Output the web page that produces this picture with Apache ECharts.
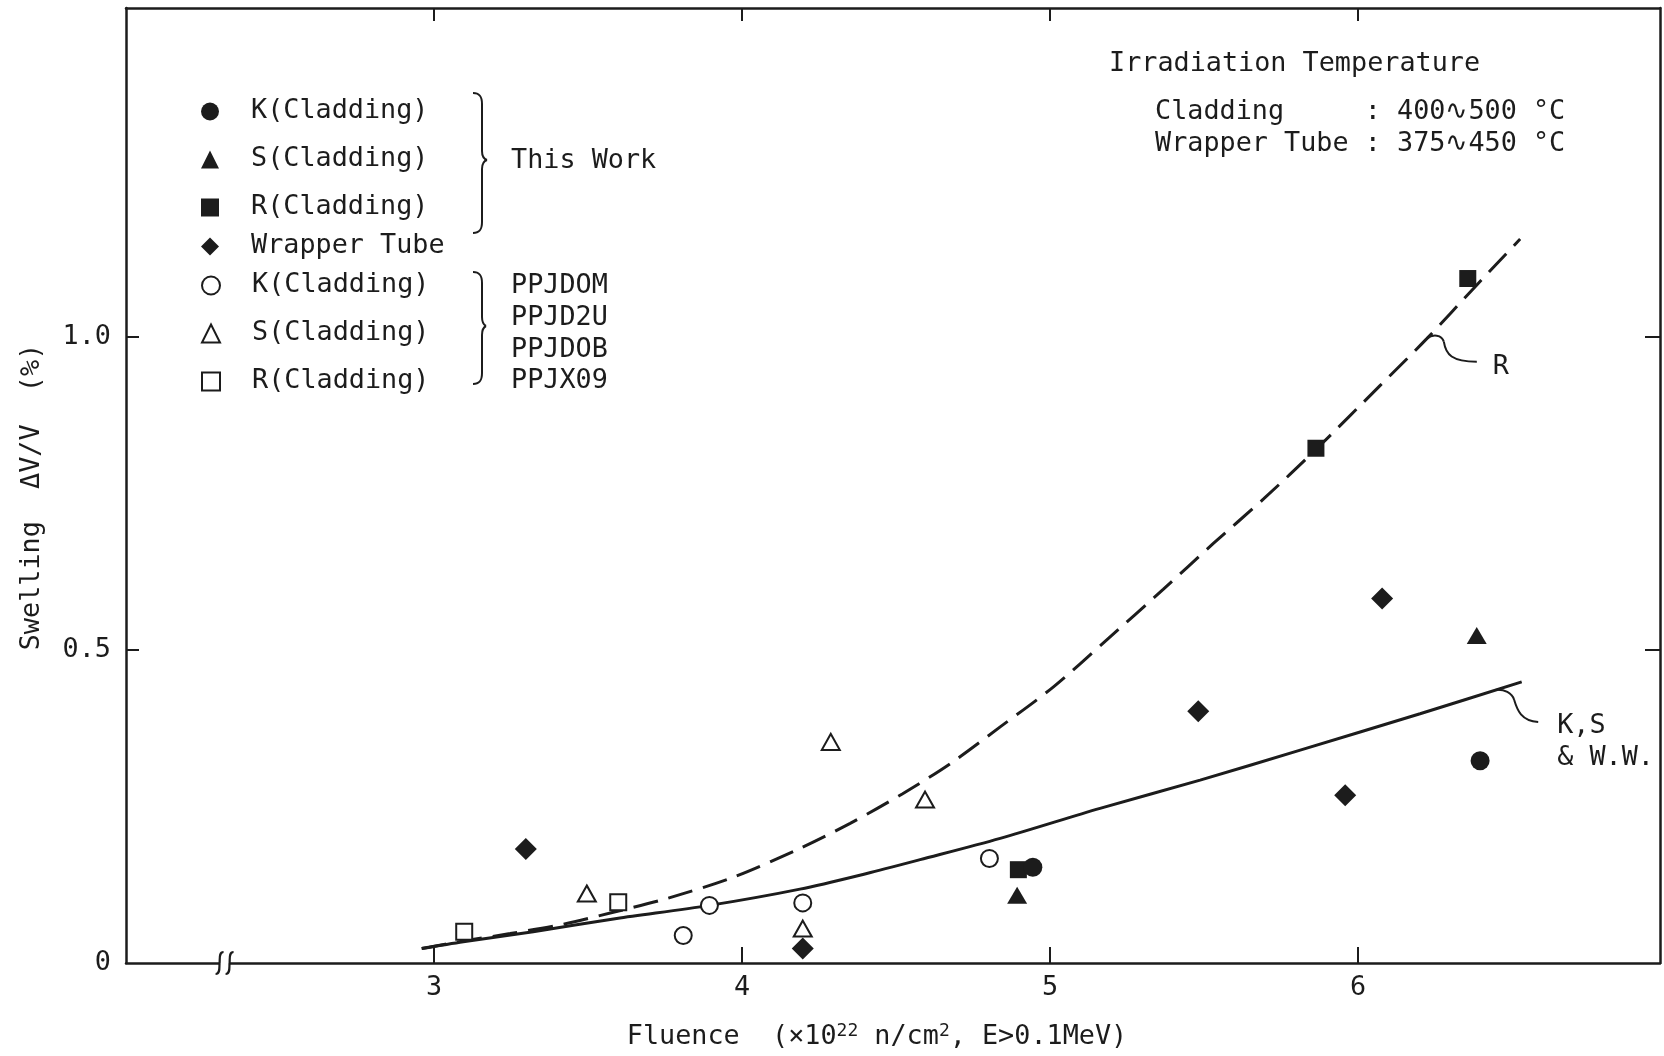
<!DOCTYPE html>
<html>
<head>
<meta charset="utf-8">
<script src="https://cdn.jsdelivr.net/npm/echarts@6/dist/echarts.min.js"></script>
<style>
  html, body { margin: 0; padding: 0; background: #fff; }
  #chart { width: 1664px; height: 1056px; }
</style>
</head>
<body>
<div id="chart"></div>
<script>
// ---- data -----------------------------------------------------------------
// Fluence (x10^22 n/cm2) vs swelling dV/V (%)
const xTickValues = [3, 4, 5, 6];
const yTickValues = [0.5, 1.0];
const yLabelValues = [0, 0.5, 1.0];

// series names: "label|group" (the legend shows the part before "|")
const thisWorkNames = ['K(Cladding)|This Work', 'S(Cladding)|This Work', 'R(Cladding)|This Work'];
const wrapperNames = ['Wrapper Tube'];
const ppjNames = ['K(Cladding)|PPJ', 'S(Cladding)|PPJ', 'R(Cladding)|PPJ'];
const ppjAssemblies = ['PPJDOM', 'PPJD2U', 'PPJDOB', 'PPJX09'];

// this work (filled symbols)
const kThisWork = [[4.944, 0.153], [6.396, 0.323]];
const sThisWork = [[4.893, 0.108], [6.385, 0.523]];
const rThisWork = [[4.897, 0.149], [5.863, 0.822], [6.356, 1.093]];
const wrapperTube = [[3.298, 0.182], [4.197, 0.023], [5.481, 0.402], [5.958, 0.268], [6.078, 0.582]];

// PPJ assemblies (open symbols)
const kPPJ = [[3.809, 0.044], [3.894, 0.092], [4.197, 0.096], [4.803, 0.167]];
const sPPJ = [[3.496, 0.111], [4.197, 0.055], [4.288, 0.353], [4.594, 0.261]];
const rPPJ = [[3.098, 0.050], [3.598, 0.097]];

// trend curves
const curveKSW = [[2.960, 0.023], [3.095, 0.034], [3.322, 0.050], [3.593, 0.071], [3.894, 0.092],
  [4.188, 0.118], [4.405, 0.143], [4.578, 0.165], [4.838, 0.199], [5.162, 0.247],
  [5.487, 0.292], [5.812, 0.340], [6.201, 0.398], [6.531, 0.449]];
const curveR = [[2.960, 0.023], [3.095, 0.035], [3.247, 0.047], [3.420, 0.062], [3.582, 0.081],
  [3.756, 0.103], [3.972, 0.137], [4.188, 0.183], [4.351, 0.223], [4.520, 0.270],
  [4.675, 0.318], [4.838, 0.377], [5.011, 0.441], [5.184, 0.516], [5.368, 0.597],
  [5.530, 0.670], [5.693, 0.741], [5.863, 0.820], [6.071, 0.922], [6.223, 0.997],
  [6.380, 1.080], [6.526, 1.156]];

// ---- chart ----------------------------------------------------------------
const FONT = '"DejaVu Sans Mono", monospace';
const FS = 26.8;
const INK = '#1c1c1c';
const chart = echarts.init(document.getElementById('chart'), null, { renderer: 'canvas' });

function filled(name, data, symbol, size) {
  return {
    type: 'scatter', name, data, symbol, symbolSize: size, z: 5, silent: true,
    itemStyle: { color: INK, borderWidth: 0, opacity: 1 }
  };
}
function hollow(name, data, symbol, size) {
  return {
    type: 'scatter', name, data, symbol, symbolSize: size, z: 5, silent: true,
    itemStyle: { color: '#ffffff', borderColor: INK, borderWidth: 2, opacity: 1 }
  };
}

const axisLine = { show: true, onZero: false, lineStyle: { color: INK, width: 2.5 } };
const tickStyle = { color: INK, width: 2 };
const legendText = { fontFamily: FONT, fontSize: FS, lineHeight: 27, color: INK, padding: [0, 0, 0, 27] };
const legendBase = {
  orient: 'vertical', left: 201, itemWidth: 18, itemHeight: 18, itemGap: 21,
  padding: 0, selectedMode: false,
  formatter: n => n.split('|')[0], textStyle: legendText
};

chart.setOption({
  animation: false,
  backgroundColor: '#ffffff',
  grid: { left: 126, right: 4, top: 8, bottom: 93, containLabel: false, outerBoundsMode: 'none' },
  legend: [
    Object.assign({}, legendBase, { top: 98, data: thisWorkNames }),
    Object.assign({}, legendBase, { top: 233, data: wrapperNames }),
    Object.assign({}, legendBase, { top: 272, data: ppjNames })
  ],
  xAxis: [
    {
      type: 'value', position: 'bottom', min: 2, max: 6.98, interval: 1,
      axisLine,
      axisTick: { show: true, inside: true, length: 16, customValues: xTickValues, lineStyle: tickStyle },
      axisLabel: { show: true, customValues: xTickValues, margin: 12, fontFamily: FONT, fontSize: FS, color: INK },
      splitLine: { show: false },
      name: 'Fluence  (×10{sup|22} n/cm{sup|2}, E>0.1MeV)',
      nameLocation: 'middle', nameGap: 59,
      nameTextStyle: {
        fontFamily: FONT, fontSize: FS, lineHeight: 30, color: INK, padding: [0, 32, 0, 0],
        rich: { sup: { fontFamily: FONT, fontSize: 18, lineHeight: 22, verticalAlign: 'top', color: INK } }
      }
    },
    {
      type: 'value', position: 'top', min: 2, max: 6.98, interval: 1,
      axisLine,
      axisTick: { show: true, inside: true, length: 13, customValues: xTickValues, lineStyle: tickStyle },
      axisLabel: { show: false },
      splitLine: { show: false }
    }
  ],
  yAxis: [
    {
      type: 'value', position: 'left', min: 0, max: 1.525, interval: 0.5,
      axisLine,
      axisTick: { show: true, inside: true, length: 13, customValues: yTickValues, lineStyle: tickStyle },
      axisLabel: {
        show: true, customValues: yLabelValues, margin: 15,
        formatter: v => (v === 0 ? '0' : v.toFixed(1)),
        fontFamily: FONT, fontSize: FS, color: INK
      },
      splitLine: { show: false },
      name: 'Swelling  ΔV/V  (%)',
      nameLocation: 'middle', nameRotate: 90, nameGap: 81,
      nameTextStyle: { fontFamily: FONT, fontSize: FS, lineHeight: 26, color: INK, padding: [0, 23, 0, 0] }
    },
    {
      type: 'value', position: 'right', min: 0, max: 1.525, interval: 0.5,
      axisLine,
      axisTick: { show: true, inside: true, length: 15, customValues: yTickValues, lineStyle: tickStyle },
      axisLabel: { show: false },
      splitLine: { show: false }
    }
  ],
  series: [
    {
      type: 'line', name: 'curve R', data: curveR, smooth: 0.3, symbol: 'none', silent: true, z: 3,
      lineStyle: { color: INK, width: 3, type: [25, 11] }
    },
    {
      type: 'line', name: 'curve K,S & W.W.', data: curveKSW, smooth: 0.3, symbol: 'none', silent: true, z: 3,
      lineStyle: { color: INK, width: 3, type: 'solid' }
    },
    filled(thisWorkNames[2], rThisWork, 'rect', 17),
    filled(thisWorkNames[0], kThisWork, 'circle', 19),
    filled(thisWorkNames[1], sThisWork, 'triangle', [20, 17]),
    filled(wrapperNames[0], wrapperTube, 'diamond', [22, 22]),
    hollow(ppjNames[0], kPPJ, 'circle', 17),
    hollow(ppjNames[1], sPPJ, 'triangle', [18, 16]),
    hollow(ppjNames[2], rPPJ, 'rect', 16)
  ]
});

// ---- annotations ------------------------------------------------------------
const toPx = p => chart.convertToPixel({ xAxisIndex: 0, yAxisIndex: 0 }, p);
const stroke = { stroke: INK, lineWidth: 2, fill: null };

function text(str, x, y, extra) {
  return {
    type: 'text', x, y, z: 10, silent: true,
    style: Object.assign({ text: str, fontFamily: FONT, fontSize: FS, fill: INK, align: 'left', verticalAlign: 'middle' }, extra || {})
  };
}
function bez(p0, c1, c2, p1, lw) {
  return {
    type: 'bezierCurve', z: 10, silent: true,
    shape: { x1: p0[0], y1: p0[1], cpx1: c1[0], cpy1: c1[1], cpx2: c2[0], cpy2: c2[1], x2: p1[0], y2: p1[1] },
    style: Object.assign({}, stroke, { lineWidth: lw || 2 })
  };
}
function seg(p0, p1, lw) {
  return {
    type: 'line', z: 10, silent: true,
    shape: { x1: p0[0], y1: p0[1], x2: p1[0], y2: p1[1] },
    style: Object.assign({}, stroke, { lineWidth: lw || 2 })
  };
}
function brace(x, top, tip, bottom, depth) {
  const xs = x + 9, xt = x + depth;
  return [
    bez([x, top], [x + 7, top], [xs, top + 4], [xs, top + 11]),
    seg([xs, top + 11], [xs, tip - 9]),
    bez([xs, tip - 9], [xs, tip - 4], [xs + 2, tip - 1], [xt, tip]),
    bez([xt, tip], [xs + 2, tip + 1], [xs, tip + 4], [xs, tip + 9]),
    seg([xs, tip + 9], [xs, bottom - 11]),
    bez([xs, bottom - 11], [xs, bottom - 4], [x + 7, bottom], [x, bottom])
  ];
}
function add(a, d) { return [a[0] + d[0], a[1] + d[1]]; }

const elements = [];

// temperature note
elements.push(text('Irradiation Temperature', 1109, 64.5));
elements.push(text('Cladding     : 400∿500 °C', 1155, 112));
elements.push(text('Wrapper Tube : 375∿450 °C', 1155, 144));

// legend groups
elements.push(...brace(473, 93, 160, 233, 14));
elements.push(text('This Work', 511, 161));
elements.push(...brace(473, 272, 326, 384, 13));
const ppjRows = [286.5, 318.5, 350.5, 381.5];
ppjAssemblies.forEach((s, i) => elements.push(text(s, 511, ppjRows[i])));

// curve labels with leaders
const rAnchor = toPx([6.223, 0.997]);
elements.push(bez(rAnchor, add(rAnchor, [6, -5]), add(rAnchor, [15, -4]), add(rAnchor, [17, 3])));
elements.push(bez(add(rAnchor, [17, 3]), add(rAnchor, [19, 16]), add(rAnchor, [25, 23]), add(rAnchor, [50, 23])));
elements.push(text('R', rAnchor[0] + 66, rAnchor[1] + 28));

const kAnchor = toPx([6.445, 0.436]);
elements.push(bez(kAnchor, add(kAnchor, [9, -1]), add(kAnchor, [17, 3]), add(kAnchor, [19, 10])));
elements.push(bez(add(kAnchor, [19, 10]), add(kAnchor, [22, 20]), add(kAnchor, [26, 31]), add(kAnchor, [43, 32])));
elements.push(text('K,S', kAnchor[0] + 62, kAnchor[1] + 36));
elements.push(text('& W.W.', kAnchor[0] + 62, kAnchor[1] + 68));

// axis break on the fluence axis
const brk = toPx([2.32, 0]);
elements.push({
  type: 'rect', z: 9, silent: true,
  shape: { x: brk[0] - 4.5, y: brk[1] - 3, width: 9, height: 6 },
  style: { fill: '#ffffff' }
});
[-5, 5].forEach(dx => {
  const c = [brk[0] + dx, brk[1]];
  elements.push(bez(add(c, [4, -11]), add(c, [-1, -11]), add(c, [0.5, -4]), add(c, [0, 0]), 2.2));
  elements.push(bez(add(c, [0, 0]), add(c, [-0.5, 4]), add(c, [1, 11]), add(c, [-4, 11]), 2.2));
});

chart.setOption({ graphic: { elements } });
</script>
</body>
</html>
